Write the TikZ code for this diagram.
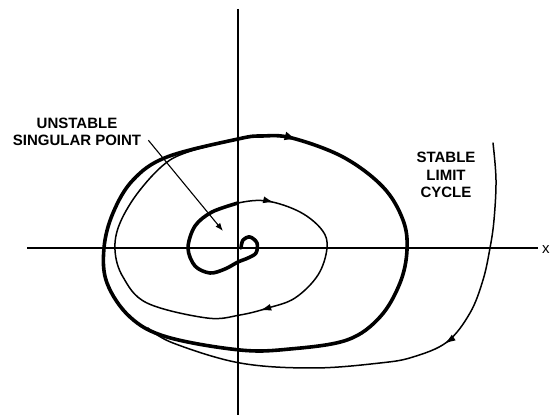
\documentclass[tikz,border=0pt]{standalone}
\usepackage{fontspec}
\setmainfont{Liberation Sans}
\usetikzlibrary{positioning,arrows.meta,decorations.markings}
\tikzset{
  axis/.style={line width=1.3pt},
  cyclepath/.style={line width=3.6pt,line join=round,line cap=round},
  thinpath/.style={line width=1.5pt,line cap=round},
  lbl/.style={font=\fontsize{15}{17.5}\selectfont\bfseries,align=center,inner sep=0pt},
  tipat/.style={postaction={decorate},
    decoration={markings,mark=at position #1 with {\arrow{Latex[length=13pt,width=9pt]}}}},
}

\begin{document}
\begin{tikzpicture}[x=1pt,y=-1pt]
\useasboundingbox (0,0) rectangle (550,417);
% axes
\draw[axis] (27,248) -- (538,248);
\draw[axis] (238,9) -- (238,415);
\node[font=\fontsize{15}{17}\selectfont,anchor=west,inner sep=0pt] (xlbl) at (542,250) {x};
% stable limit cycle
\draw[cyclepath,tipat=36pt] plot[smooth cycle,tension=0.6] coordinates {
  (238,139) (262,136) (292,138) (343,157) (383,187) (403,220) (407,250) (400,283)
  (380,317) (347,340) (290,349) (240,350) (167,337) (130,317) (107,283)
  (104,248) (113,213) (133,180) (167,157)};
% spiral out of the singular point
\draw[thinpath,postaction={decorate},decoration={markings,
    mark=at position 64pt with {\arrow{Latex[length=11pt,width=7pt]}},
    mark=at position 238pt with {\arrow{Latex[length=11pt,width=7pt]}}}]
  plot[smooth,tension=0.6] coordinates {
  (212,212) (238,203) (267,201) (300,212) (322,230) (327,248) (318,275)
  (295,298) (268,308) (240,315) (207,318) (147,303) (123,277) (115,250)
  (120,223) (140,190) (170,160) (205,147)};
\draw[cyclepath] plot[smooth,tension=0.55] coordinates {
  (241,248) (243,240) (250,237) (257,243) (256,253) (248,258) (238,262)
  (225,269) (210,273) (195,266) (188,248) (195,226) (212,212) (238,203)};
% outer trajectory
\draw[thinpath,postaction={decorate},decoration={markings,
    mark=at position 214pt with {\arrow{Latex[length=11pt,width=7pt]}}}]
  plot[smooth,tension=0.6] coordinates {
  (493,143) (496,180) (494,220) (490,248) (483,280) (470,313) (447,342)
  (413,357) (380,363) (313,368) (240,363) (173,343) (148,328)};
% labels
\node[lbl] (unstable) at (77,132) {UNSTABLE\\SINGULAR POINT};
\coordinate (sing) at (223,231);
\draw[line width=1.1pt,-{Latex[length=8pt,width=6pt]}]
  ([shift={(7pt,6pt)}]unstable.south east) -- (sing);
\node[lbl] (stable) at (446,175) {STABLE\\LIMIT\\CYCLE};
\end{tikzpicture}
\end{document}
